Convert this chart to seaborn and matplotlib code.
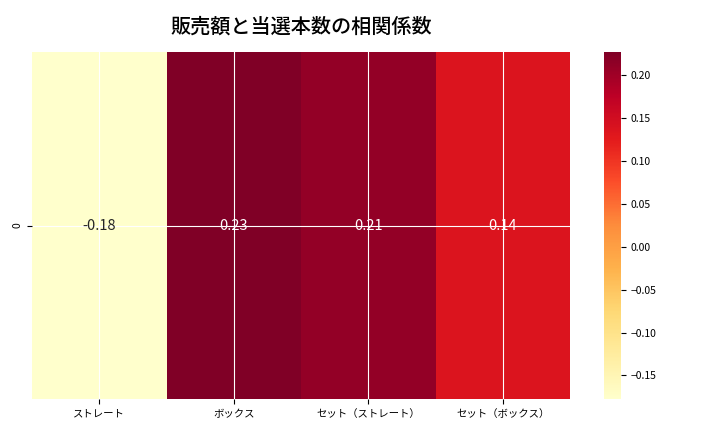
import numpy as np
import pandas as pd
import matplotlib
matplotlib.use('Agg')
import matplotlib.pyplot as plt
import seaborn as sns

plt.rcParams['font.family'] = ['Noto Sans CJK JP', 'DejaVu Sans']
plt.rcParams['axes.unicode_minus'] = True

# 相関係数（販売額 vs 当選本数）
columns = ['ストレート', 'ボックス', 'セット（ストレート）', 'セット（ボックス）']
corr_values = [-0.1775, 0.2272, 0.2105, 0.136]

df = pd.DataFrame([corr_values], columns=columns)

fig = plt.figure(figsize=(7.2, 4.32), dpi=100)
ax = fig.add_axes([32 / 720, 33 / 432, 538 / 720, 347 / 432])
cax = fig.add_axes([604 / 720, 33 / 432, 17 / 720, 347 / 432])

sns.heatmap(df, cmap='YlOrRd', annot=True, fmt='.2f', ax=ax, cbar_ax=cax,
            annot_kws={'fontsize': 10.5})

ax.grid(True, color='white', linewidth=0.8)
ax.set_axisbelow(False)
ax.set_title('販売額と当選本数の相関係数', fontsize=14.5, fontweight='medium', pad=14)
ax.tick_params(axis='x', labelsize=7.5, rotation=0)
ax.tick_params(axis='y', labelsize=7.5)
plt.setp(ax.get_yticklabels(), rotation=90, va='center')
cax.tick_params(labelsize=7.5)

fig.savefig('out.png', dpi=100)
